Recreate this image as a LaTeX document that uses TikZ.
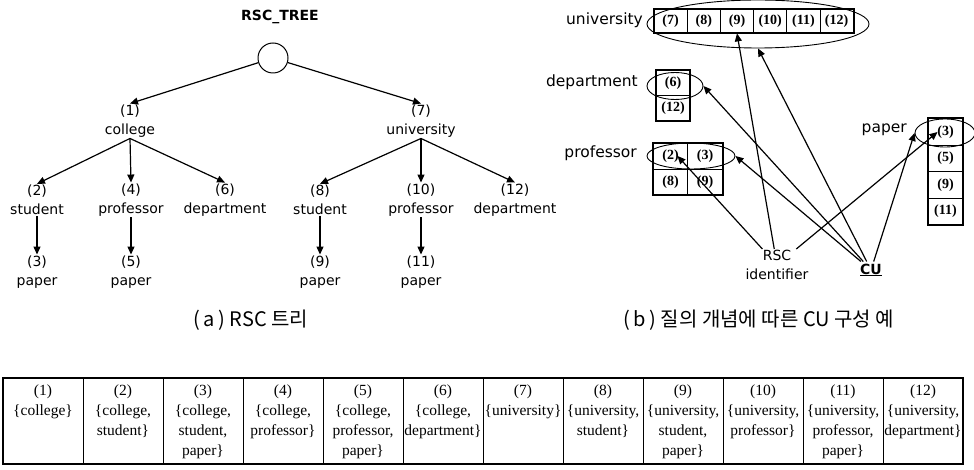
\documentclass[tikz,border=0pt]{standalone}
\usepackage{fontspec}
\setmainfont{Liberation Serif}
\setsansfont{DejaVu Sans}
\newfontfamily\cjk{Noto Sans CJK KR}
\usetikzlibrary{arrows.meta,shapes.geometric}

\begin{document}
\begin{tikzpicture}[x=1pt, y=-1pt,
	lbl/.style={font=\sffamily\fontsize{14}{19}\selectfont, align=center, inner sep=1pt},
	arr/.style={-{Triangle[length=8pt,width=7pt]}, line width=1.2pt},
	cell/.style={draw, line width=0.8pt, minimum width=33.2, minimum height=24, inner sep=0pt, font=\bfseries\fontsize{14}{14}\selectfont},
	side/.style={anchor=east, inner sep=0pt, font=\sffamily\fontsize{15.5}{16}\selectfont},
	ring/.style={ellipse, draw, line width=0.9pt, inner sep=0pt},
	tab/.style={anchor=north, align=center, inner sep=0pt, font=\fontsize{15.5}{20}\selectfont}]
	\useasboundingbox (0,0) rectangle (974,470);

	% (a) tree
	\node[font=\sffamily\bfseries\fontsize{14}{14}\selectfont] (title) at (280,17) {RSC\_TREE};
	\node[circle, draw, line width=1pt, minimum size=30] (root) at (273,58) {};
	\node[lbl] (n1) at (130,121) {(1)\\college};
	\node[lbl] (n7) at (421,121) {(7)\\university};
	\node[lbl] (n2) at (37,200) {(2)\\student};
	\node[lbl] (n4) at (131,200) {(4)\\professor};
	\node[lbl] (n6) at (225,200) {(6)\\department};
	\node[lbl] (n8) at (320,200) {(8)\\student};
	\node[lbl] (n10) at (421,200) {(10)\\professor};
	\node[lbl] (n12) at (515,200) {(12)\\department};
	\node[lbl] (n3) at (37,272) {(3)\\paper};
	\node[lbl] (n5) at (131,272) {(5)\\paper};
	\node[lbl] (n9) at (320,272) {(9)\\paper};
	\node[lbl] (n11) at (421,272) {(11)\\paper};

	\draw[arr] (root) -- (n1.north);
	\draw[arr] (root) -- (n7.north);
	\foreach \p/\c in {n1/n2, n1/n4, n1/n6, n7/n8, n7/n10, n7/n12, n2/n3, n4/n5, n8/n9, n10/n11}
		\draw[arr] (\p.south) -- (\c.north);

	\node[font=\cjk\fontsize{20}{20}\selectfont] (capa) at (251,320) {(\,a\,) RSC 트리};

	% (b) CU
	\foreach \i [count=\k from 0] in {7,...,12}
		\node[cell] (u\i) at (670.6+33.2*\k,21) {(\i)};
	\draw[line width=2pt] (u7.north west) rectangle (u12.south east);
	\node[ring, minimum width=222, minimum height=48] (univ) at (758,24) {};
	\node[side] (lu) at (643,20) {university};

	\node[cell, minimum width=34, minimum height=25] (d6) at (673,83) {(6)};
	\node[cell, minimum width=34, minimum height=25] (d12) at (673,108) {(12)};
	\draw[line width=2pt] (d6.north west) rectangle (d12.south east);
	\node[ring, minimum width=56, minimum height=27] (dept) at (675,86) {};
	\node[side] (ld) at (638,82) {department};

	\node[cell, minimum width=34.5, minimum height=26] (p2) at (670.5,156) {(2)};
	\node[cell, minimum width=34.5, minimum height=26] (p3) at (705,156) {(3)};
	\node[cell, minimum width=34.5, minimum height=26] (p8) at (670.5,182) {(8)};
	\node[cell, minimum width=34.5, minimum height=26] (p9) at (705,182) {(9)};
	\draw[line width=2pt] (p2.north west) rectangle (p9.south east);
	\node[ring, minimum width=88, minimum height=26] (prof) at (691,156) {};
	\node[side] (lp) at (637,153) {professor};

	\foreach \i [count=\k from 0] in {3,5,9,11}
		\node[cell, minimum width=35, minimum height=26.5] (q\i) at (945.5,132+26.5*\k) {(\i)};
	\draw[line width=2pt] (q3.north west) rectangle (q11.south east);
	\node[ring, minimum width=60, minimum height=28] (pap) at (945,133) {};
	\node[side] (lq) at (907,130) {paper};

	\node[lbl] (rsc) at (777,265) {RSC\\identifier};
	\node[font=\sffamily\bfseries\fontsize{14}{14}\selectfont, inner sep=2pt] (cu) at (871,270) {\underline{CU}};

	\draw[arr] (rsc) -- (u9.south);
	\draw[arr] (rsc) -- ([xshift=7pt]p2.center);
	\draw[arr] (rsc) -- ([xshift=-8pt]q3.center);
	\draw[arr] (cu) -- (univ.south);
	\draw[arr] (cu) -- (dept.east);
	\draw[arr] (cu) -- (prof.east);
	\draw[arr] (cu) -- (pap.west);

	\node[font=\cjk\fontsize{20}{20}\selectfont] (capb) at (759,320) {(\,b\,) 질의 개념에 따른 CU 구성 예};

	% table
	\draw[line width=1.8pt] (3,378) rectangle (963,464);
	\foreach \i in {1,...,11}
		\draw[line width=0.8pt] (3+80*\i,378) -- (3+80*\i,464);
	\foreach \i/\txt in {1/{\{college\}}, 2/{\{college,\\student\}}, 3/{\{college,\\student,\\paper\}},
			4/{\{college,\\professor\}}, 5/{\{college,\\professor,\\paper\}}, 6/{\{college,\\department\}},
			7/{\{university\}}, 8/{\{university,\\student\}}, 9/{\{university,\\student,\\paper\}},
			10/{\{university,\\professor\}}, 11/{\{university,\\professor,\\paper\}}, 12/{\{university,\\department\}}}
		\node[tab] (t\i) at (80*\i-37,385) {(\i)\\\txt};
\end{tikzpicture}
\end{document}
